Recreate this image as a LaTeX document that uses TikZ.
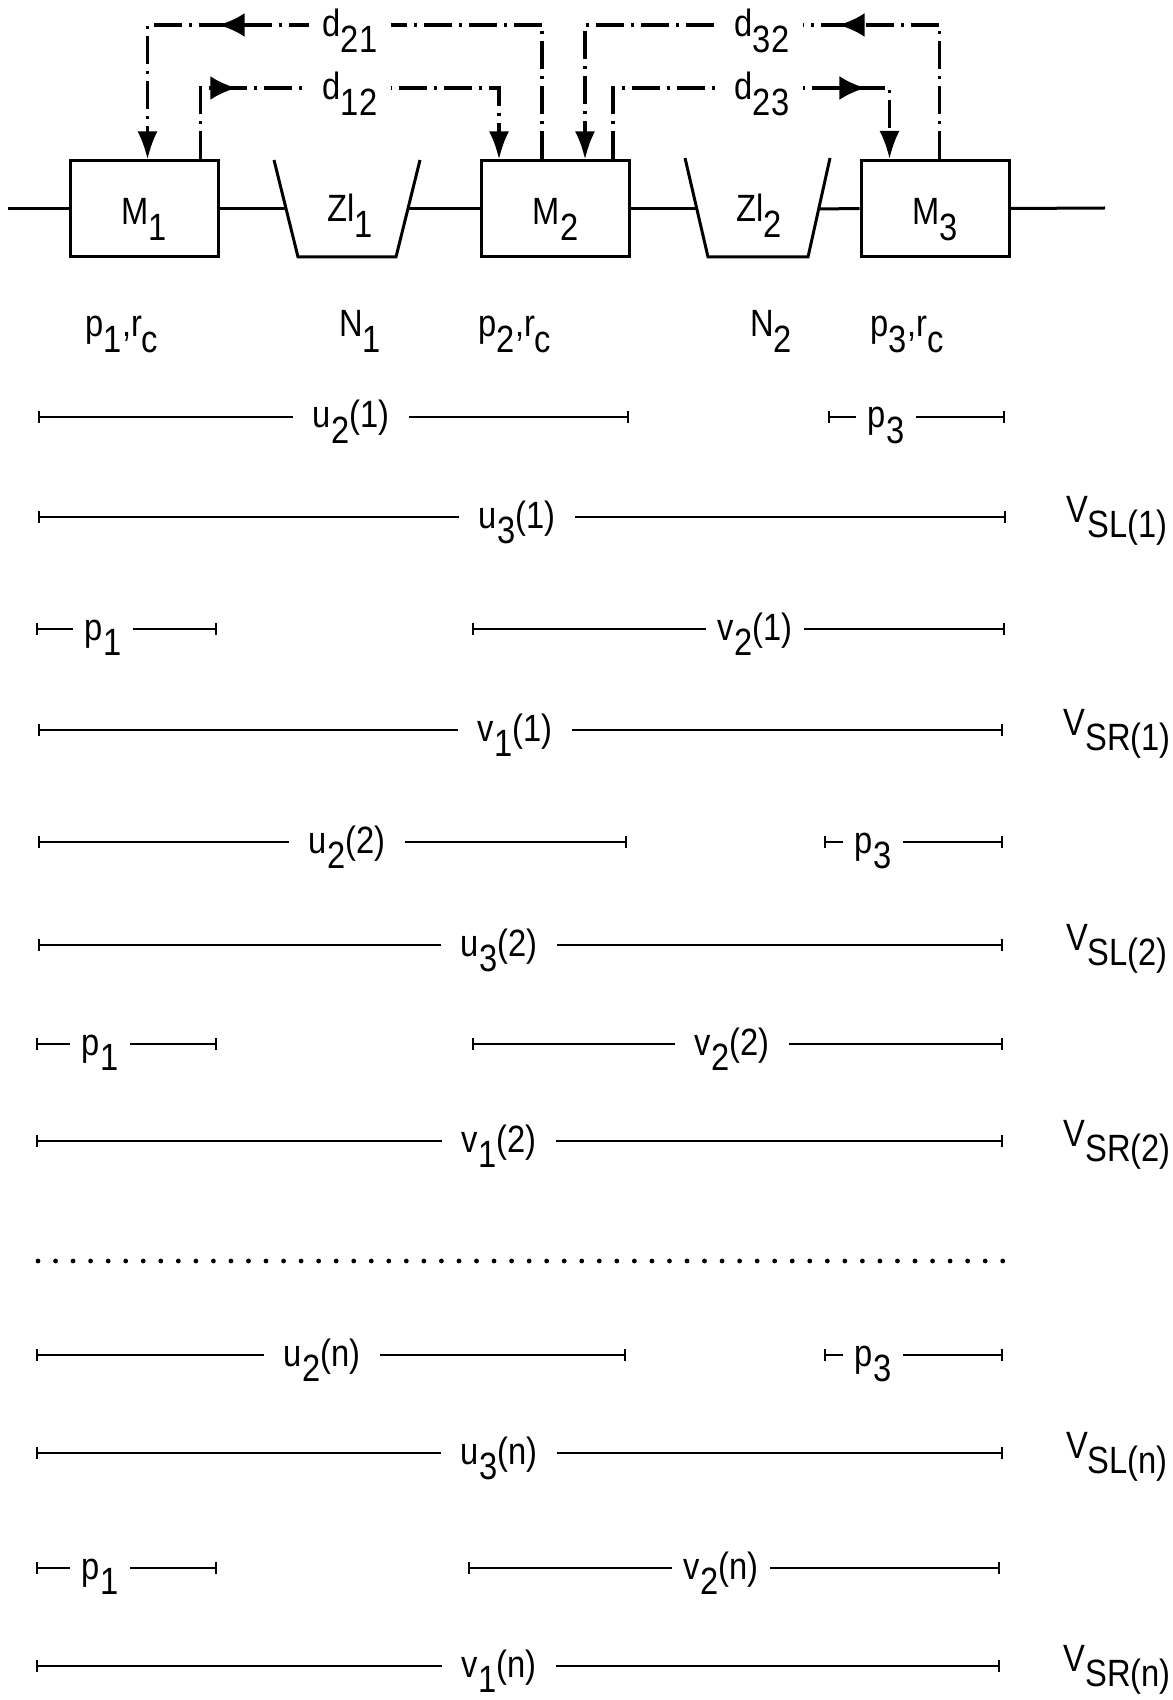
\documentclass[tikz,border=0pt]{standalone}
\usepackage{fontspec}
\setmainfont{Liberation Sans}[FakeStretch=0.86]
\usetikzlibrary{arrows.meta,calc,decorations.markings}
\newcommand\lo[1]{\raisebox{-0.42em}{#1}}
\begin{document}
\begin{tikzpicture}[x=0.5pt,y=-0.5pt,
  every node/.style={font=\fontsize{19pt}{22pt}\selectfont},
  ln/.style={line width=1.5pt},
  box/.style={draw, line width=1.5pt, minimum width=74pt, minimum height=48pt,
    inner sep=0pt, text height=16pt, text depth=0pt},
  dd/.style={line width=1.7pt, dash pattern=on 14pt off 3.5pt on 1.5pt off 3.5pt,
    -{Latex[length=14pt,width=10pt]}},
  midarrow/.style={postaction={decorate}, decoration={markings,
    mark=at position #1 with {\arrow{Latex[length=13pt,width=12pt]}}}},
  dlab/.style={fill=white, inner xsep=7pt, inner ysep=1pt, anchor=base},
  dim/.style={line width=1.2pt, arrows={Bar[width=6pt]-Bar[width=6pt]}},
  lab/.style={fill=white, inner xsep=10pt, inner ysep=1pt, anchor=base},
  slab/.style={fill=white, inner xsep=6pt, inner ysep=1pt, anchor=base},
  txt/.style={anchor=base}]
\path[use as bounding box] (0,0) rectangle (1172,1700);

% boxes
\node[box] (M1) at (144,209) {M\lo{1}};
\node[box] (M2) at (555.5,209) {M\lo{2}};
\node[box] (M3) at (935,208.5) {M\lo{3}};

% buffers
\draw[ln] (274,160) -- (298,257) -- (396,257) -- (420,160);
\draw[ln] (685,158) -- (708,257) -- (808,257) -- (830,158);
\node[txt] (Z1) at (350,222) {Zl\lo{1}};
\node[txt] (Z2) at (759,222) {Zl\lo{2}};

% main line
\coordinate (in) at (8,209);
\coordinate (T1l) at (286,209);
\coordinate (T1r) at (408,209);
\coordinate (T2l) at (697,209);
\coordinate (T2r) at (819,209);
\coordinate (out) at (1105,208);
\draw[ln] (in) -- (M1.west);
\draw[ln] (M1.east) -- (T1l);
\draw[ln] (T1r) -- (M2.west);
\draw[ln] (M2.east) -- (T2l);
\draw[ln] (T2r) -- (M3.west);
\draw[ln] (M3.east) -- (out);

% feedback connectors
\coordinate (top1) at (0,25);
\coordinate (top2) at (0,88);
\coordinate (a21) at ($(M2.north west)+(62,0)$);
\coordinate (b21) at ($(M1.north west)+(79,0)$);
\coordinate (a12) at ($(M1.north west)+(132,0)$);
\coordinate (b12) at ($(M2.north west)+(19,0)$);
\coordinate (a32) at ($(M3.north west)+(80,0)$);
\coordinate (b32) at ($(M2.north west)+(105,0)$);
\coordinate (a23) at ($(M2.north west)+(133,0)$);
\coordinate (b23) at ($(M3.north west)+(30,0)$);
\draw[dd, midarrow=0.69] (a21) -- (a21|-top1) -- (b21|-top1) -- (b21);
\draw[dd, midarrow=0.243] (a12) -- (a12|-top2) -- (b12|-top2) -- (b12);
\draw[dd, midarrow=0.377] (a32) -- (a32|-top1) -- (b32|-top1) -- (b32);
\draw[dd, midarrow=0.773] (a23) -- (a23|-top2) -- (b23|-top2) -- (b23);
\node[dlab] (d21) at (350,37) {d\lo{21}};
\node[dlab] (d12) at (350,100) {d\lo{12}};
\node[dlab] (d32) at (762,37) {d\lo{32}};
\node[dlab] (d23) at (762,100) {d\lo{23}};

% parameters
\node[txt] (P1) at (122,337) {p\lo{1},r\lo{c}};
\node[txt] (N1) at (360,337) {N\lo{1}};
\node[txt] (P2) at (515,337) {p\lo{2},r\lo{c}};
\node[txt] (N2) at (771,337) {N\lo{2}};
\node[txt] (P3) at (907,337) {p\lo{3},r\lo{c}};

% ---- period 1
\draw[dim] (38,417) -- (629,417);
\node[lab] (u21) at (351,428) {u\lo{2}(1)};
\draw[dim] (828,417) -- (1005,417);
\node[slab] (p31) at (886,428) {p\lo{3}};

\draw[dim] (38,517) -- (1006,517);
\node[lab] (u31) at (517,528) {u\lo{3}(1)};
\node[txt] (VSL1) at (1117,522) {V\lo{SL(1)}};

\draw[dim] (36,629) -- (217,629);
\node[slab] (p11) at (103,640) {p\lo{1}};
\draw[dim] (472,629) -- (1005,629);
\node[slab] (v21) at (755,640) {v\lo{2}(1)};

\draw[dim] (38,730) -- (1003,730);
\node[lab] (v11) at (515,741) {v\lo{1}(1)};
\node[txt] (VSR1) at (1117,735) {V\lo{SR(1)}};

% ---- period 2
\draw[dim] (38,842) -- (627,842);
\node[lab] (u22) at (347,853) {u\lo{2}(2)};
\draw[dim] (824,842) -- (1003,842);
\node[slab] (p32) at (873,853) {p\lo{3}};

\draw[dim] (38,945) -- (1003,945);
\node[lab] (u32) at (499,956) {u\lo{3}(2)};
\node[txt] (VSL2) at (1117,950) {V\lo{SL(2)}};

\draw[dim] (36,1044) -- (217,1044);
\node[slab] (p12) at (100,1055) {p\lo{1}};
\draw[dim] (472,1044) -- (1003,1044);
\node[lab] (v22) at (732,1055) {v\lo{2}(2)};

\draw[dim] (36,1141) -- (1003,1141);
\node[lab] (v12) at (499,1152) {v\lo{1}(2)};
\node[txt] (VSR2) at (1117,1146) {V\lo{SR(2)}};

% ---- dots
\draw[line width=2.4pt, line cap=round, dash pattern=on 0pt off 8.77pt] (38,1261) -- (1005,1261);

% ---- period n
\draw[dim] (36,1355) -- (626,1355);
\node[lab] (u2n) at (322,1366) {u\lo{2}(n)};
\draw[dim] (824,1355) -- (1003,1355);
\node[slab] (p3n) at (873,1366) {p\lo{3}};

\draw[dim] (36,1453) -- (1003,1453);
\node[lab] (u3n) at (499,1464) {u\lo{3}(n)};
\node[txt] (VSLn) at (1117,1458) {V\lo{SL(n)}};

\draw[dim] (36,1568) -- (217,1568);
\node[slab] (p1n) at (100,1579) {p\lo{1}};
\draw[dim] (468,1568) -- (1000,1568);
\node[slab] (v2n) at (721,1579) {v\lo{2}(n)};

\draw[dim] (36,1666) -- (1000,1666);
\node[lab] (v1n) at (499,1677) {v\lo{1}(n)};
\node[txt] (VSRn) at (1117,1671) {V\lo{SR(n)}};
\end{tikzpicture}
\end{document}
